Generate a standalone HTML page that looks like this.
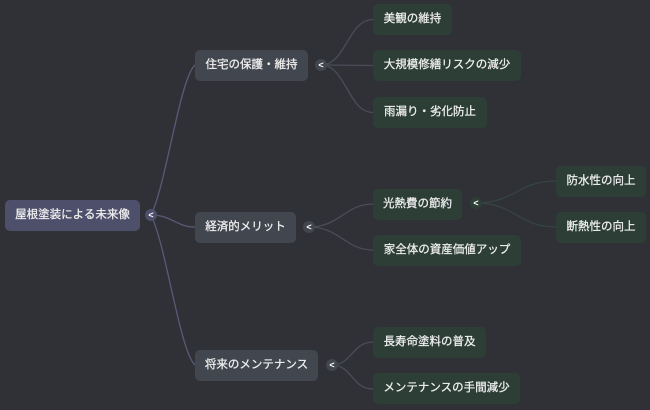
<!DOCTYPE html>
<html><head><meta charset="utf-8"><style>
html,body{margin:0;padding:0;}
body{width:650px;height:410px;background:#303136;position:relative;overflow:hidden;font-family:"Liberation Sans","Noto Sans CJK JP",sans-serif;}
.n{position:absolute;height:31px;line-height:31px;text-align:center;color:#f0f0f0;font-size:11.5px;border-radius:5px;white-space:nowrap;-webkit-text-stroke:0.25px #f0f0f0;}
.r{background:#4e4f6b;}
.a{background:#42464f;}
.g{background:#2c3e36;}
.t{position:absolute;width:12px;height:12px;border-radius:50%;color:#fff;font-size:9px;font-weight:bold;line-height:12px;text-align:center;}
svg{position:absolute;left:0;top:0;}
</style></head><body>
<svg width="650" height="410" fill="none">
<g stroke="#5a5a78" stroke-width="1.3">
<path d="M151,215 C166,185 180,78 195,65"/>
<path d="M151,215 C172,215 176,227 195,227"/>
<path d="M151,215 C166,245 180,352 195,365"/>
</g>
<g stroke="#4a4d57" stroke-width="1.3">
<path d="M321,65 C346,65 348,19.5 373,19.5"/>
<path d="M321,65 L373,65.5"/>
<path d="M321,65 C346,65 348,112.5 373,112.5"/>
<path d="M309,227 C340,227 345,204 373,204"/>
<path d="M309,227 C340,227 345,250 373,250"/>
<path d="M332,365 C352,365 352,342 373,342"/>
<path d="M332,365 C352,365 352,389 373,389"/>
</g>
<g stroke="#35453e" stroke-width="1.3">
<path d="M476,203 C515,203 518,181 556,181"/>
<path d="M476,203 C515,203 518,227 556,227"/>
</g>
</svg>

<div class="n r" style="left:5px;top:200px;width:135px;">屋根塗装による未来像</div>
<div class="t" style="left:145px;top:209px;background:#4e4f6b;">&lt;</div>

<div class="n a" style="left:195px;top:50px;width:113px;">住宅の保護・維持</div>
<div class="t" style="left:315px;top:59px;background:#42464f;">&lt;</div>
<div class="n a" style="left:195px;top:212px;width:101px;">経済的メリット</div>
<div class="t" style="left:303px;top:221px;background:#42464f;">&lt;</div>
<div class="n a" style="left:195px;top:350px;width:123px;">将来のメンテナンス</div>
<div class="t" style="left:326px;top:359px;background:#42464f;">&lt;</div>

<div class="n g" style="left:373px;top:4px;width:79px;">美観の維持</div>
<div class="n g" style="left:373px;top:50px;width:148px;">大規模修繕リスクの減少</div>
<div class="n g" style="left:373px;top:97px;width:114px;">雨漏り・劣化防止</div>
<div class="n g" style="left:373px;top:189px;width:89px;">光熱費の節約</div>
<div class="t" style="left:470px;top:197px;background:#2c3e36;">&lt;</div>
<div class="n g" style="left:373px;top:235px;width:148px;">家全体の資産価値アップ</div>
<div class="n g" style="left:373px;top:327px;width:113px;">長寿命塗料の普及</div>
<div class="n g" style="left:373px;top:373px;width:147px;">メンテナンスの手間減少</div>
<div class="n g" style="left:556px;top:166px;width:90px;">防水性の向上</div>
<div class="n g" style="left:556px;top:212px;width:90px;">断熱性の向上</div>
</body></html>
